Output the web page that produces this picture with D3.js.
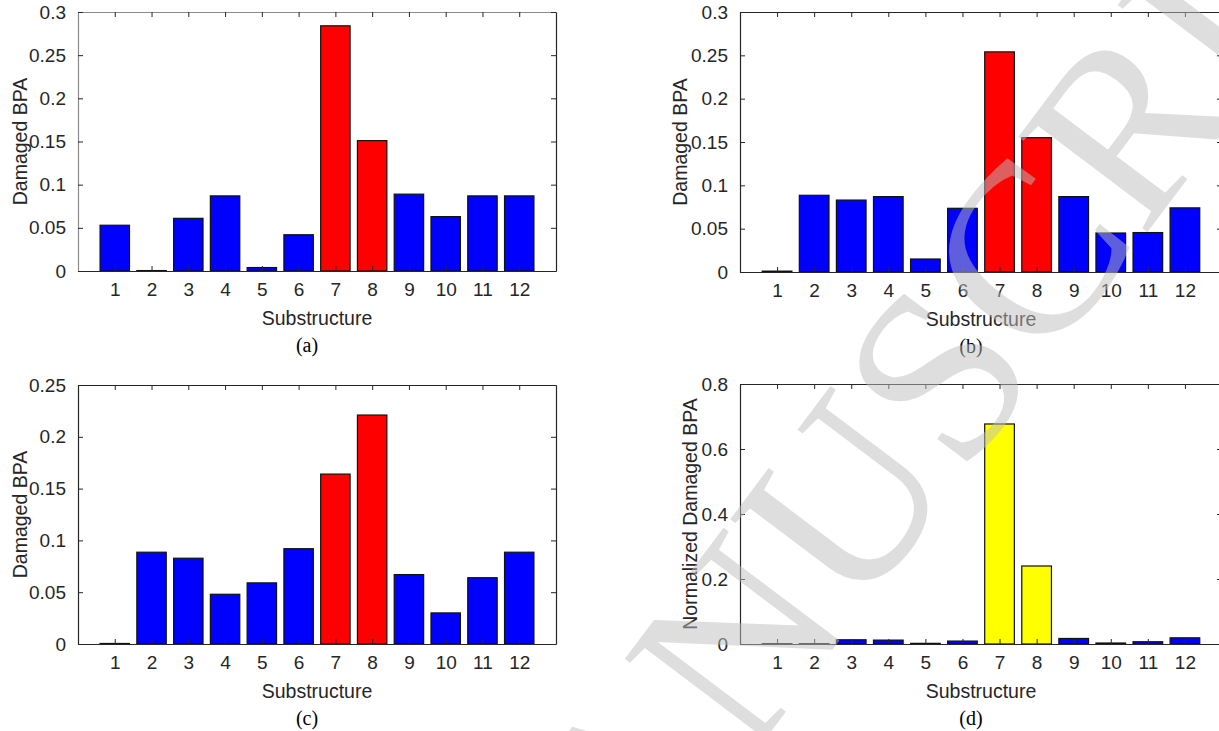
<!DOCTYPE html>
<html>
<head>
<meta charset="utf-8">
<script src="https://cdn.jsdelivr.net/npm/d3@7"></script>
<style>
  html, body { margin: 0; padding: 0; background: #fff; }
  svg { display: block; }
</style>
</head>
<body>
<svg id="chart" width="1219" height="731"></svg>
<script>
// ---------------- data ----------------
const categories = ["1","2","3","4","5","6","7","8","9","10","11","12"];

const valuesA = [0.053, 0.0005, 0.061, 0.087, 0.004, 0.042, 0.284, 0.151, 0.089, 0.063, 0.087, 0.087];
const valuesB = [0.001, 0.0885, 0.083, 0.087, 0.015, 0.0735, 0.254, 0.155, 0.087, 0.045, 0.0455, 0.074];
const valuesC = [0.0005, 0.0886, 0.0828, 0.048, 0.059, 0.092, 0.164, 0.221, 0.067, 0.030, 0.064, 0.0886];
const valuesD = [0.001, 0.001, 0.013, 0.012, 0.002, 0.009, 0.677, 0.240, 0.017, 0.003, 0.007, 0.019];

const highlightA = ["7","8"];
const highlightB = ["7","8"];
const highlightC = ["7","8"];
const highlightD = ["7","8"];

const yTicksA = [0, 0.05, 0.1, 0.15, 0.2, 0.25, 0.3];
const yTickLabelsA = ["0", "0.05", "0.1", "0.15", "0.2", "0.25", "0.3"];
const yTicksC = [0, 0.05, 0.1, 0.15, 0.2, 0.25];
const yTickLabelsC = ["0", "0.05", "0.1", "0.15", "0.2", "0.25"];
const yTicksD = [0, 0.2, 0.4, 0.6, 0.8];
const yTickLabelsD = ["0", "0.2", "0.4", "0.6", "0.8"];

const xLabel = "Substructure";
const yLabelABC = "Damaged BPA";
const yLabelD = "Normalized Damaged BPA";
const captions = ["(a)", "(b)", "(c)", "(d)"];
const watermarkText = "MANUSCRIPT";

// ---------------- layout ----------------
const panels = [
  { values: valuesA, hi: highlightA, hiColor: "#ff0000", yMax: 0.3, ticks: yTicksA, tickLabels: yTickLabelsA,
    yLabel: yLabelABC, caption: captions[0], left: 78, right: 556, top: 12, bottom: 271, axisGray: true, yLabelX: 20 },
  { values: valuesB, hi: highlightB, hiColor: "#ff0000", yMax: 0.3, ticks: yTicksA, tickLabels: yTickLabelsA,
    yLabel: yLabelABC, caption: captions[1], left: 740, right: 1222, top: 12, bottom: 272, axisGray: false, yLabelX: 680 },
  { values: valuesC, hi: highlightC, hiColor: "#ff0000", yMax: 0.25, ticks: yTicksC, tickLabels: yTickLabelsC,
    yLabel: yLabelABC, caption: captions[2], left: 78, right: 556, top: 385, bottom: 644, axisGray: false, yLabelX: 20 },
  { values: valuesD, hi: highlightD, hiColor: "#ffff00", yMax: 0.8, ticks: yTicksD, tickLabels: yTickLabelsD,
    yLabel: yLabelD, caption: captions[3], left: 740, right: 1222, top: 384, bottom: 644, axisGray: false, yLabelX: 690 }
];

const svg = d3.select("#chart");
const sansFont = "'Liberation Sans', Arial, Helvetica, sans-serif";
const serifFont = "'Liberation Serif', 'Times New Roman', serif";
const axisColor = "#262626";

panels.forEach(p => {
  const g = svg.append("g");
  // x: continuous domain [0, 13] like MATLAB bar, bar width 0.8
  const x = d3.scaleLinear().domain([0, categories.length + 1]).range([p.left, p.right]);
  const xBand = d3.scaleBand().domain(categories)
      .range([x(0.5), x(categories.length + 0.5)]).paddingInner(0.2).paddingOuter(0.1);
  const y = d3.scaleLinear().domain([0, p.yMax]).range([p.bottom, p.top]);

  const data = categories.map((c, i) => ({ c, v: p.values[i] }));

  // bars
  g.selectAll("rect.bar").data(data).join("rect")
    .attr("class", "bar")
    .attr("x", d => xBand(d.c))
    .attr("width", xBand.bandwidth())
    .attr("y", d => y(d.v))
    .attr("height", d => Math.max(0, y(0) - y(d.v)))
    .attr("fill", d => p.hi.includes(d.c) ? p.hiColor : "#0000ff")
    .attr("stroke", "#111")
    .attr("stroke-width", 1.2);

  const xTickVals = categories.map((c, i) => i + 1);

  // axes via d3 axis generators (inward ticks)
  const axB = d3.axisBottom(x).tickValues(xTickVals).tickSizeInner(-5).tickSizeOuter(0)
      .tickFormat((d, i) => categories[i]).tickPadding(12);
  const axT = d3.axisTop(x).tickValues(xTickVals).tickSizeInner(-5).tickSizeOuter(0).tickFormat("");
  const axL = d3.axisLeft(y).tickValues(p.ticks).tickSizeInner(-5).tickSizeOuter(0)
      .tickFormat((d, i) => p.tickLabels[i]).tickPadding(12);
  const axR = d3.axisRight(y).tickValues(p.ticks).tickSizeInner(-5).tickSizeOuter(0).tickFormat("");

  const frameColor = p.axisGray ? "#8a8a8a" : axisColor;

  const gB = g.append("g").attr("transform", `translate(0,${p.bottom})`).call(axB);
  const gT = g.append("g").attr("transform", `translate(0,${p.top})`).call(axT);
  const gL = g.append("g").attr("transform", `translate(${p.left},0)`).call(axL);
  const gR = g.append("g").attr("transform", `translate(${p.right},0)`).call(axR);

  [gB, gT, gL, gR].forEach(a => {
    a.selectAll(".tick line").attr("stroke", axisColor).attr("stroke-width", 1);
    a.selectAll(".domain").attr("stroke", axisColor).attr("stroke-width", 1.2);
    a.selectAll("text").attr("fill", axisColor).style("font-family", sansFont).style("font-size", "19px");
  });
  gT.select(".domain").attr("stroke", frameColor);
  gL.select(".domain").attr("stroke", frameColor);

  // x label
  g.append("text")
    .attr("x", (p.left + Math.min(p.right, 1222)) / 2)
    .attr("y", p.bottom + 54)
    .attr("text-anchor", "middle")
    .attr("fill", axisColor)
    .style("font-family", sansFont).style("font-size", "19.5px")
    .text(xLabel);

  // y label
  g.append("text")
    .attr("transform", `translate(${p.yLabelX},${(p.top + p.bottom) / 2}) rotate(-90)`)
    .attr("text-anchor", "middle")
    .attr("dy", "0.35em")
    .attr("fill", axisColor)
    .style("font-family", sansFont).style("font-size", "19.5px")
    .text(p.yLabel);

  // caption
  g.append("text")
    .attr("x", (p.left + p.right) / 2 - 10)
    .attr("y", p.bottom + 81)
    .attr("text-anchor", "middle")
    .attr("fill", "#000")
    .style("font-family", serifFont).style("font-size", "20px")
    .text(p.caption);
});

// watermark
svg.append("text")
  .attr("transform", "translate(918,394) rotate(-53)")
  .attr("text-anchor", "middle")
  .attr("dy", "0.35em")
  .attr("fill", "rgb(190,190,190)")
  .attr("fill-opacity", 0.5)
  .style("font-family", serifFont)
  .style("font-size", "245px")
  .text(watermarkText);
</script>
</body>
</html>
